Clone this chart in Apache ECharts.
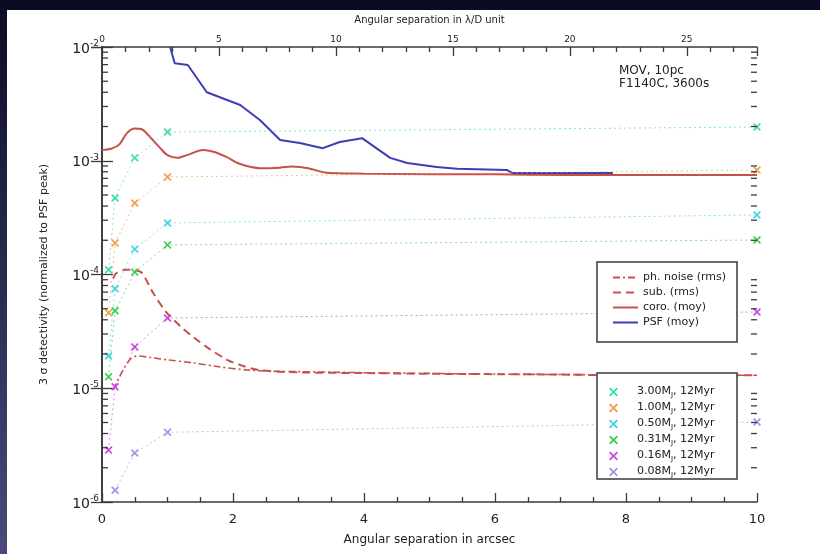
<!DOCTYPE html>
<html><head><meta charset="utf-8">
<script src="https://cdn.jsdelivr.net/npm/echarts@6/dist/echarts.min.js"></script>
<style>html,body{margin:0;padding:0;background:#0b0b24;}#c{width:820px;height:554px;}</style>
</head><body><div id="c"></div>
<script>
// ---- data ----
const phNoise = [[0.17,9.7e-6],[0.32,1.44e-5],[0.45,1.85e-5],[0.55,1.92e-5],[0.75,1.86e-5],[0.99,1.78e-5],[1.39,1.67e-5],[1.8,1.54e-5],[2.2,1.45e-5],[2.6,1.41e-5],[3,1.4e-5],[4,1.37e-5],[5,1.35e-5],[6,1.33e-5],[7,1.32e-5],[8,1.31e-5],[9,1.3e-5],[10,1.3e-5]];
const subRms = [[0.17,9.2e-5],[0.22,1.03e-4],[0.35,1.1e-4],[0.5,1.09e-4],[0.61,1.03e-4],[0.78,6.9e-5],[0.99,4.6e-5],[1.2,3.5e-5],[1.39,2.83e-5],[1.65,2.2e-5],[1.91,1.78e-5],[2.11,1.6e-5],[2.41,1.44e-5],[3,1.38e-5],[4,1.36e-5],[5,1.34e-5],[6,1.33e-5],[7,1.32e-5],[8,1.3e-5],[9,1.3e-5],[10,1.3e-5]];
const coroMoy = [[0,1.24e-3],[0.15,1.28e-3],[0.27,1.4e-3],[0.38,1.75e-3],[0.5,1.92e-3],[0.6,1.9e-3],[0.69,1.72e-3],[0.89,1.29e-3],[1.0,1.12e-3],[1.15,1.06e-3],[1.3,1.12e-3],[1.54,1.24e-3],[1.7,1.2e-3],[1.9,1.08e-3],[2.1,9.4e-4],[2.41,8.6e-4],[2.72,8.7e-4],[2.9,8.9e-4],[3.15,8.6e-4],[3.4,7.9e-4],[4,7.7e-4],[5,7.6e-4],[6,7.6e-4],[7,7.5e-4],[8,7.5e-4],[9,7.5e-4],[10,7.5e-4]];
const psfMoy = [[1.04,1e-2],[1.11,7.2e-3],[1.31,6.95e-3],[1.6,4.0e-3],[1.91,3.42e-3],[2.11,3.09e-3],[2.41,2.28e-3],[2.72,1.52e-3],[3.02,1.43e-3],[3.37,1.29e-3],[3.63,1.46e-3],[3.97,1.58e-3],[4.4,1.06e-3],[4.66,9.55e-4],[5.11,8.8e-4],[5.42,8.5e-4],[6.18,8.3e-4],[6.27,7.8e-4],[7.8,7.8e-4]];

const sepPoints = [0.1, 0.2, 0.5, 1.0, 10];
const planetMasses = ['3.00', '1.00', '0.50', '0.31', '0.16', '0.08'];
const planetAge = '12Myr';
const m300 = [1.1e-4, 4.7e-4, 1.06e-3, 1.79e-3, 1.98e-3];
const m100 = [4.6e-5, 1.89e-4, 4.25e-4, 7.2e-4, 8.3e-4];
const m050 = [1.92e-5, 7.5e-5, 1.67e-4, 2.84e-4, 3.34e-4];
const m031 = [1.26e-5, 4.8e-5, 1.05e-4, 1.82e-4, 2.01e-4];
const m016 = [2.86e-6, 1.03e-5, 2.31e-5, 4.15e-5, 4.68e-5];
const m008 = [null, 1.27e-6, 2.7e-6, 4.1e-6, 5.05e-6];
const planetValues = [m300, m100, m050, m031, m016, m008];
const planetColors = ['#3fdcb0', '#f0a04a', '#45d3e6', '#3ccf4a', '#c94ae0', '#9a9ae8'];

const lineNames = ['ph. noise (rms)', 'sub. (rms)', 'coro. (moy)', 'PSF (moy)'];
const yDecades = [1e-6, 1e-5, 1e-4, 1e-3, 1e-2];

// minor log tick positions (axis decoration)
const logMinor = [];
for (let d = -6; d <= -3; d++) for (let m = 2; m <= 9; m++) logMinor.push([0, m * Math.pow(10, d)]);

const FONT = 'DejaVu Sans';
const XMARK = 'path://M0,1.5L1.5,0L5,3.5L8.5,0L10,1.5L6.5,5L10,8.5L8.5,10L5,6.5L1.5,10L0,8.5L3.5,5Z';
const red = '#c8504c';
const blue = '#3d3db4';

const planetName = i => planetMasses[i] + 'MJ, ' + planetAge;

const series = [
  {name: lineNames[0], type: 'line', data: phNoise, symbol: 'none', smooth: 0.3,
   lineStyle: {color: red, width: 1.6, type: [7, 3, 2, 3]}, itemStyle: {color: red}, z: 3},
  {name: lineNames[1], type: 'line', data: subRms, symbol: 'none', smooth: 0.3,
   lineStyle: {color: red, width: 2, type: [8, 5]}, itemStyle: {color: red}, z: 3},
  {name: lineNames[2], type: 'line', data: coroMoy, symbol: 'none', smooth: 0.3,
   lineStyle: {color: red, width: 2}, itemStyle: {color: red}, z: 3},
  {name: lineNames[3], type: 'line', data: psfMoy, symbol: 'none',
   lineStyle: {color: blue, width: 2}, itemStyle: {color: blue}, z: 4}
];
planetValues.forEach((vals, i) => {
  const d = [];
  vals.forEach((v, k) => { if (v !== null) d.push([sepPoints[k], v]); });
  series.push({
    name: planetName(i), type: 'line', data: d, symbol: XMARK, symbolSize: 8, clip: false,
    lineStyle: {color: planetColors[i], width: 1, type: [2, 3], opacity: 0.65},
    itemStyle: {color: planetColors[i]}, z: 5
  });
});
series.push({
  type: 'custom', data: logMinor, encode: {x: 0, y: 1}, silent: true, clip: false, z: 6,
  renderItem: function (params, api) {
    const v = api.value(1);
    const pl = api.coord([0, v]), pr = api.coord([10, v]);
    const st = {stroke: '#3a3a3a', lineWidth: 1.3};
    return {type: 'group', children: [
      {type: 'line', shape: {x1: pl[0], y1: pl[1], x2: pl[0] + 6, y2: pl[1]}, style: st},
      {type: 'line', shape: {x1: pr[0], y1: pr[1], x2: pr[0] - 6, y2: pr[1]}, style: st}
    ]};
  }
});

const axisLine = {show: true, lineStyle: {color: '#3a3a3a', width: 1.6}};
const yLabelFmt = v => {
  const e = Math.round(Math.log10(v));
  return yDecades.some(d => Math.abs(Math.log10(d) - e) < 1e-6) ? '{n|10}{e|' + e + '}' : '';
};

const option = {
  backgroundColor: '#0b0b24',
  animation: false,
  grid: {left: 102, right: 63, top: 47, bottom: 52, containLabel: false},
  graphic: [
    {type: 'rect', z: -100, shape: {x: 7, y: 10, width: 813, height: 544}, style: {fill: '#ffffff'}},
    {type: 'rect', z: -100, shape: {x: 0, y: 0, width: 7, height: 554},
     style: {fill: new echarts.graphic.LinearGradient(0, 0, 0, 1, [{offset: 0, color: '#0b0b24'}, {offset: 1, color: '#4a4a7c'}])}},
    {type: 'rect', z: 10, shape: {x: 597, y: 262, width: 140, height: 80}, style: {fill: '#fff', stroke: '#3a3a3a', lineWidth: 1.5}},
    {type: 'rect', z: 10, shape: {x: 597, y: 373, width: 140, height: 106}, style: {fill: '#fff', stroke: '#3a3a3a', lineWidth: 1.5}},
    {type: 'text', z: 10, left: 619, top: 64, style: {text: 'MOV, 10pc\nF1140C, 3600s', font: '12px "' + FONT + '"', fill: '#222', lineHeight: 13}}
  ],
  xAxis: [
    {type: 'value', min: 0, max: 10, interval: 2, position: 'bottom',
     name: 'Angular separation in arcsec', nameLocation: 'middle', nameGap: 32,
     nameTextStyle: {fontFamily: FONT, fontSize: 12, color: '#222'},
     axisLine: axisLine, axisTick: {show: true, inside: true, length: 9, lineStyle: {color: '#3a3a3a', width: 1.3}},
     minorTick: {show: true, splitNumber: 4, length: 5, lineStyle: {color: '#3a3a3a', width: 1.3}},
     axisLabel: {fontFamily: FONT, fontSize: 13, color: '#222', margin: 11}, splitLine: {show: false}},
    {type: 'value', min: 0, max: 28, interval: 5, position: 'top',
     name: 'Angular separation in λ/D unit', nameLocation: 'middle', nameGap: 22,
     nameTextStyle: {fontFamily: FONT, fontSize: 10, color: '#222'},
     axisLine: axisLine, axisTick: {show: true, inside: true, length: 9, lineStyle: {color: '#3a3a3a', width: 1.3}},
     minorTick: {show: true, splitNumber: 5, length: 5, lineStyle: {color: '#3a3a3a', width: 1.3}},
     axisLabel: {fontFamily: FONT, fontSize: 9, color: '#222', margin: 3, showMaxLabel: false}, splitLine: {show: false}}
  ],
  yAxis: [
    {type: 'log', logBase: 10, min: 1e-6, max: 1e-2, position: 'left',
     name: '3 σ detectivity (normalized to PSF peak)', nameLocation: 'middle', nameGap: 52, nameRotate: 90,
     nameTextStyle: {fontFamily: FONT, fontSize: 11, color: '#222'},
     axisLine: axisLine, axisTick: {show: true, inside: true, length: 11, lineStyle: {color: '#3a3a3a', width: 1.3}},
     axisLabel: {formatter: yLabelFmt, margin: 3,
       rich: {n: {fontFamily: FONT, fontSize: 14, color: '#222', verticalAlign: 'bottom', lineHeight: 18},
              e: {fontFamily: FONT, fontSize: 9, color: '#222', verticalAlign: 'bottom', lineHeight: 18, padding: [0, 0, 8, 0]}}},
     splitLine: {show: false}},
    {type: 'log', logBase: 10, min: 1e-6, max: 1e-2, position: 'right',
     axisLine: axisLine, axisTick: {show: true, inside: true, length: 11, lineStyle: {color: '#3a3a3a', width: 1.3}},
     axisLabel: {show: false}, splitLine: {show: false}}
  ],
  legend: [
    {data: lineNames, left: 612, top: 272, orient: 'vertical', padding: 0, itemGap: 4, itemWidth: 25, itemHeight: 12,
     itemStyle: {opacity: 0}, lineStyle: {opacity: 1},
     z: 20, textStyle: {fontFamily: FONT, fontSize: 11, color: '#222'}, selectedMode: false},
    {data: planetMasses.map((m, i) => ({name: planetName(i), icon: XMARK, itemStyle: {color: planetColors[i], opacity: 1}})),
     left: 609, top: 386, orient: 'vertical', padding: 0, itemGap: 3, itemWidth: 9, itemHeight: 12,
     z: 20, selectedMode: false,
     formatter: function (name) {
       const i = planetMasses.findIndex((m, k) => planetName(k) === name);
       return '{a|' + planetMasses[i] + 'M}{s|J}{a|, ' + planetAge + '}';
     },
     textStyle: {padding: [0, 0, 0, 14], rich: {
       a: {fontFamily: FONT, fontSize: 11, color: '#222', verticalAlign: 'bottom', lineHeight: 14, padding: [0, 0, 2, 0]},
       s: {fontFamily: FONT, fontSize: 7, color: '#222', verticalAlign: 'bottom', lineHeight: 14}}}}
  ],
  series: series
};
echarts.init(document.getElementById('c')).setOption(option);
</script></body></html>
